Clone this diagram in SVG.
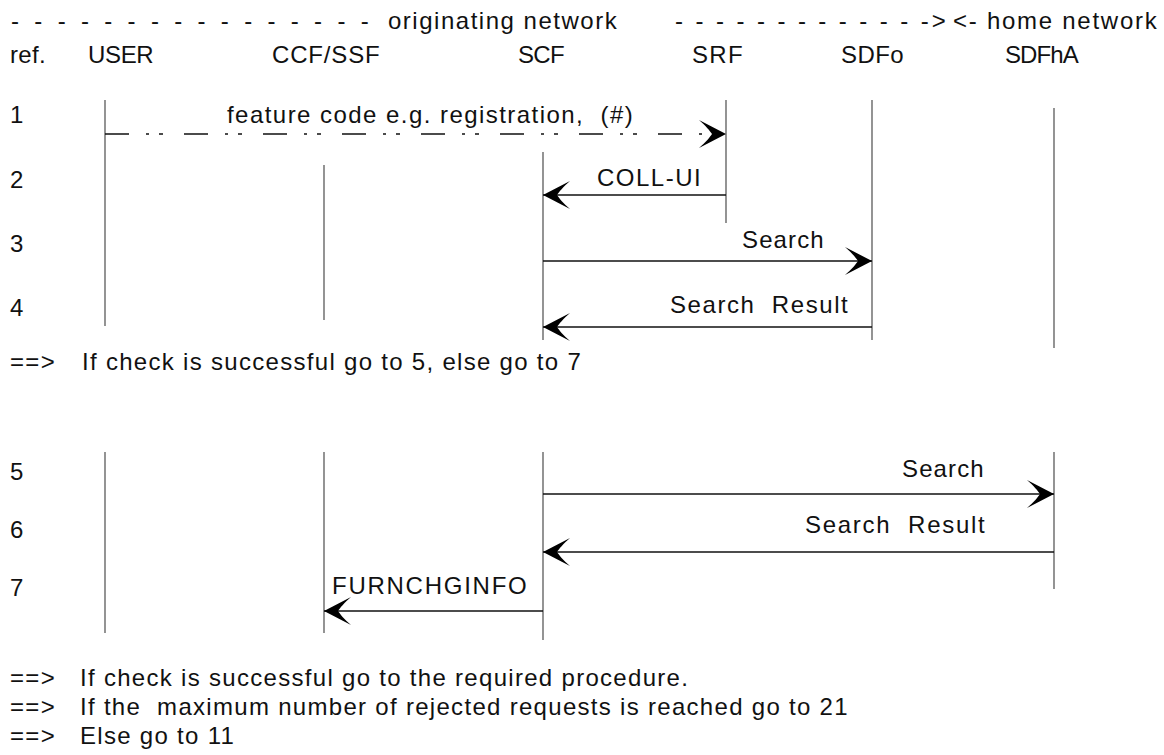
<svg xmlns="http://www.w3.org/2000/svg" width="1164" height="755" viewBox="0 0 1164 755">
<style>
text{font-family:"Liberation Sans",Arial,sans-serif;font-size:24px;fill:#111;letter-spacing:1.3px;white-space:pre}
.life{stroke:#666;stroke-width:1.4;fill:none}
.msg{stroke:#111;stroke-width:1.3;fill:none;marker-end:url(#ah)}
.dash{stroke-dasharray:24 17 3 10 4 21}
</style>
<defs>
<marker id="ah" markerUnits="userSpaceOnUse" markerWidth="30" markerHeight="30" refX="28" refY="14" orient="auto">
<path d="M28,14 L1,0 C8,6 12,11 14,14 C12,17 8,22 1,28 Z" fill="#000"/>
</marker>
</defs>
<rect width="1164" height="755" fill="#fff"/>
<g id="banner">
<text x="11" y="29" textLength="359" lengthAdjust="spacing">- - - - - - - - - - - - - - - -</text>
<text x="388" y="29" textLength="230" lengthAdjust="spacing">originating network</text>
<text x="675" y="29" textLength="272" lengthAdjust="spacing">- - - - - - - - - - - - -&gt;</text>
<text x="953" y="29" textLength="205" lengthAdjust="spacing">&lt;- home network</text>
<text x="10" y="63" textLength="37" lengthAdjust="spacing">ref.</text>
</g>
<g id="row-labels">
<text x="10" y="123">1</text>
<text x="10" y="188">2</text>
<text x="10" y="252">3</text>
<text x="10" y="316">4</text>
<text x="10" y="480">5</text>
<text x="10" y="538">6</text>
<text x="10" y="596">7</text>
</g>
<g id="node-user">
<text x="88" y="63" textLength="67" lengthAdjust="spacing">USER</text>
<line class="life" x1="105" y1="100" x2="105" y2="326"/>
<line class="life" x1="105" y1="452" x2="105" y2="633"/>
</g>
<g id="node-ccf-ssf">
<text x="272" y="63" textLength="109" lengthAdjust="spacing">CCF/SSF</text>
<line class="life" x1="324" y1="165" x2="324" y2="320"/>
<line class="life" x1="324" y1="452" x2="324" y2="633"/>
</g>
<g id="node-scf">
<text x="518" y="63" textLength="48" lengthAdjust="spacing">SCF</text>
<line class="life" x1="543" y1="152" x2="543" y2="340"/>
<line class="life" x1="543" y1="452" x2="543" y2="640"/>
</g>
<g id="node-srf">
<text x="692" y="63" textLength="52" lengthAdjust="spacing">SRF</text>
<line class="life" x1="726" y1="100" x2="726" y2="223"/>
</g>
<g id="node-sdfo">
<text x="841" y="63" textLength="64" lengthAdjust="spacing">SDFo</text>
<line class="life" x1="872" y1="100" x2="872" y2="340"/>
</g>
<g id="node-sdfha">
<text x="1005" y="63" textLength="75" lengthAdjust="spacing">SDFhA</text>
<line class="life" x1="1054" y1="108" x2="1054" y2="348"/>
<line class="life" x1="1054" y1="452" x2="1054" y2="589"/>
</g>
<g id="connectors">
<line class="msg dash" x1="105" y1="134" x2="726" y2="134"/>
<text x="227" y="123" textLength="407" lengthAdjust="spacing">feature code e.g. registration,  (#)</text>
<line class="msg" x1="726" y1="195" x2="543" y2="195"/>
<text x="597" y="186" textLength="105" lengthAdjust="spacing">COLL-UI</text>
<line class="msg" x1="543" y1="261" x2="872" y2="261"/>
<text x="742" y="248" textLength="83" lengthAdjust="spacing">Search</text>
<line class="msg" x1="872" y1="327" x2="543" y2="327"/>
<text x="670" y="313" textLength="179" lengthAdjust="spacing">Search  Result</text>
<line class="msg" x1="543" y1="494" x2="1054" y2="494"/>
<text x="902" y="477" textLength="83" lengthAdjust="spacing">Search</text>
<line class="msg" x1="1054" y1="552" x2="543" y2="552"/>
<text x="805" y="533" textLength="181" lengthAdjust="spacing">Search  Result</text>
<line class="msg" x1="543" y1="611" x2="324" y2="611"/>
<text x="332" y="594" textLength="196" lengthAdjust="spacing">FURNCHGINFO</text>
</g>
<g id="notes">
<text x="10" y="370">==&gt;</text>
<text x="82" y="370">If check is successful go to 5, else go to 7</text>
<text x="10" y="686">==&gt;</text>
<text x="80" y="686">If check is successful go to the required procedure.</text>
<text x="10" y="715">==&gt;</text>
<text x="80" y="715">If the  maximum number of rejected requests is reached go to 21</text>
<text x="10" y="744">==&gt;</text>
<text x="80" y="744">Else go to 11</text>
</g>
</svg>
